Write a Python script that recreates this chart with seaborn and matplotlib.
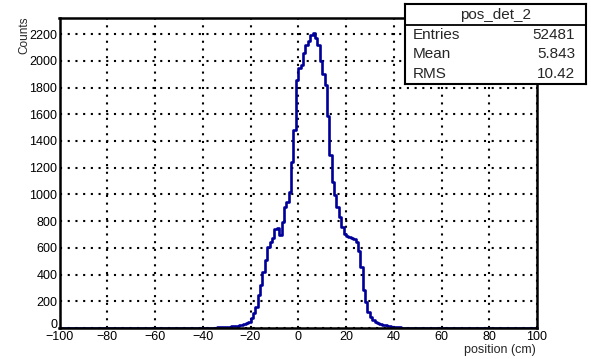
import numpy as np
import pandas as pd
import matplotlib
matplotlib.use("Agg")
import matplotlib.pyplot as plt
from matplotlib.transforms import ScaledTranslation
import seaborn as sns

# ---- data ----
hist_title = "pos_det_2"
x_label = "position (cm)"
y_label = "Counts"
stat_names = ["Entries", "Mean", "RMS"]
stat_values = ["52481", "5.843", "10.42"]

x_min, x_max, n_bins = -100, 100, 200
first_bin = -40  # lower edge of the first listed bin (1 cm bins)
bin_counts = [
    1, 1, 2, 2, 3, 3, 4, 5, 6, 7,              # -40 .. -31
    8, 10, 12, 14, 17, 20, 24, 28, 35, 48,     # -30 .. -21
    75, 110, 160, 245, 325, 420, 510, 605, 645, 670,   # -20 .. -11
    740, 745, 695, 795, 905, 945, 1020, 1245, 1480, 1860,  # -10 .. -1
    1945, 1970, 2055, 2115, 2145, 2190, 2210, 2170, 2120, 1995,  # 0 .. 9
    1905, 1820, 1590, 1295, 1095, 995, 905, 830, 755, 705,  # 10 .. 19
    685, 680, 670, 665, 645, 580, 460, 285, 195, 120,  # 20 .. 29
    82, 57, 42, 35, 28, 25, 22, 17, 14, 11,    # 30 .. 39
    8, 6, 4, 3, 2, 1,                          # 40 .. 45
]
x_ticks = list(range(-100, 101, 20))
y_ticks = list(range(0, 2201, 200))

# ---- build full histogram table ----
bin_w = (x_max - x_min) / n_bins
centers = x_min + bin_w * (np.arange(n_bins) + 0.5)
weights = np.zeros(n_bins)
start = int(first_bin - x_min)
weights[start:start + len(bin_counts)] = bin_counts
df = pd.DataFrame({"pos": centers, "w": weights})

sns.set_style("white")
plt.rcParams["font.family"] = ["Liberation Sans", "DejaVu Sans"]

W, H = 591, 359
fig = plt.figure(figsize=(W / 100, H / 100), dpi=100)
ax_l, ax_r, ax_t, ax_b = 59.5, 537, 18, 328
ax = fig.add_axes([ax_l / W, 1 - ax_b / H, (ax_r - ax_l) / W, (ax_b - ax_t) / H])

sns.histplot(data=df, x="pos", weights="w", binwidth=bin_w,
             binrange=(x_min, x_max), element="step",
             fill=False, color="#000099", linewidth=1.9, ax=ax)
for ln in ax.lines:
    ln.set_zorder(3)
for c in ax.collections:
    c.set_zorder(3)

ax.set_xlim(x_min, x_max)
ax.set_ylim(0, 1.05 * max(bin_counts))
ax.set_xticks(x_ticks)
ax.set_yticks(y_ticks)
ax.set_xticks(np.arange(x_min, x_max + 1, 4), minor=True)
ax.set_yticks(np.arange(0, 1.05 * max(bin_counts), 40), minor=True)
ax.set_xlabel("")
ax.set_ylabel("")

ax.grid(True, which="major", color="black", linestyle=(0, (1.0, 2.7)),
        linewidth=1.5)
ax.set_axisbelow(True)

for s in ax.spines.values():
    s.set_linewidth(1.8)
    s.set_color("black")
    s.set_zorder(4)

ax.tick_params(axis="both", which="both", direction="in", colors="black",
               top=False, right=False, labelsize=9, width=1.4)
ax.tick_params(axis="x", which="major", length=7.2, pad=2.2)
ax.tick_params(axis="x", which="minor", length=3.6)
ax.tick_params(axis="y", which="major", length=9.4, pad=1.5)
ax.tick_params(axis="y", which="minor", length=4.7)

# lift the "0" y label a little so it does not touch "-100"
zero_lbl = ax.get_yticklabels()[0]
zero_lbl.set_transform(zero_lbl.get_transform() +
                       ScaledTranslation(0, 3 / 72, fig.dpi_scale_trans))

fig.text(24 / W, 1 - 17 / H, y_label, rotation=90, ha="center", va="top",
         fontsize=8.5)
fig.text(536 / W, 1 - 350 / H, x_label, ha="right", va="center", fontsize=9)

# ---- statistics box ----
bx_l, bx_r, bx_t, bx_b = 405, 586, 4, 84
sep_y = 24.5
bax = fig.add_axes([bx_l / W, 1 - bx_b / H, (bx_r - bx_l) / W, (bx_b - bx_t) / H],
                   zorder=10)
bax.set_xlim(bx_l, bx_r)
bax.set_ylim(bx_b, bx_t)
bax.set_xticks([])
bax.set_yticks([])
bax.set_facecolor("white")
for s in bax.spines.values():
    s.set_linewidth(1.5)
    s.set_color("black")
bax.plot([bx_l, bx_r], [sep_y, sep_y], color="black", linewidth=1.3)
bax.text((bx_l + bx_r) / 2, 14.5, hist_title, ha="center", va="center",
         fontsize=11)
row_y = [35, 54.5, 74]
for name, val, yy in zip(stat_names, stat_values, row_y):
    bax.text(413, yy, name, ha="left", va="center", fontsize=11)
    bax.text(575, yy, val, ha="right", va="center", fontsize=11)

fig.savefig("out.png", dpi=100, facecolor="white")
